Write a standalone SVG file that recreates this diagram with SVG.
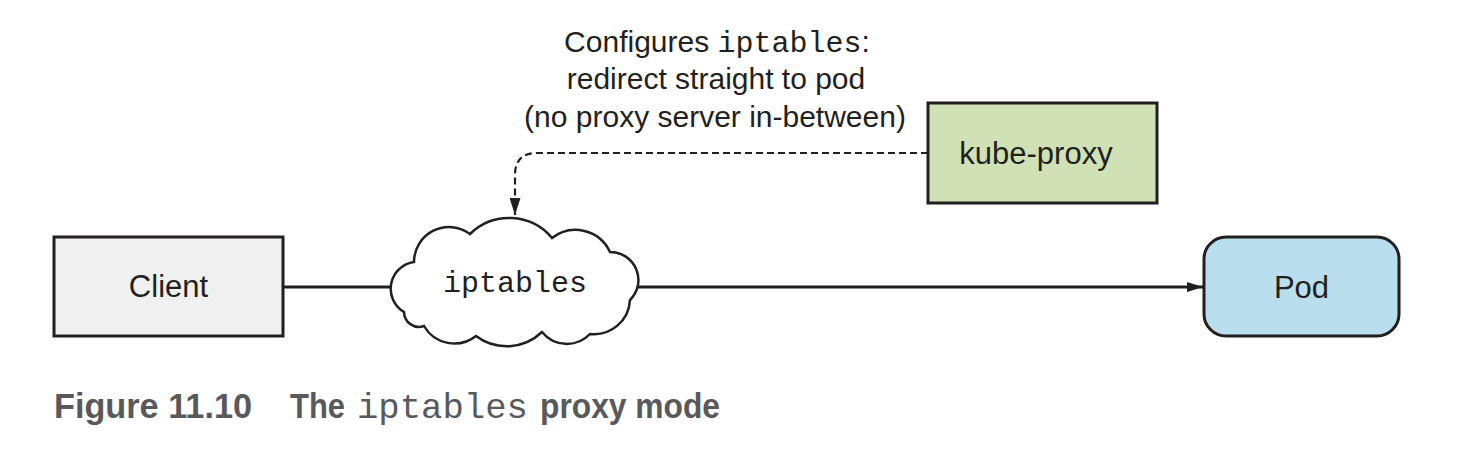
<svg xmlns="http://www.w3.org/2000/svg" width="1468" height="450" viewBox="0 0 1468 450">
<defs>
<style>
.box{stroke:#231f20;stroke-width:3}
.lbl{font-family:"Liberation Sans",Arial,sans-serif;font-size:30px;fill:#231f20;text-anchor:middle}
.node{font-size:31px}
.mono{font-family:"Liberation Mono","Courier New",monospace}
.conn{fill:none;stroke:#231f20;stroke-width:3}
.dash{fill:none;stroke:#231f20;stroke-width:2.2;stroke-dasharray:7 4}
.cap{font-family:"Liberation Sans",Arial,sans-serif;font-weight:bold;font-size:35px;fill:#58595b}
</style>
<marker id="arr" viewBox="0 0 16 10" refX="16" refY="5" markerWidth="16" markerHeight="10" markerUnits="userSpaceOnUse" orient="auto">
<path d="M0,0 L16,5 L0,10 Z" fill="#231f20"/>
</marker>
<marker id="arrd" viewBox="0 0 11 17" refX="5.5" refY="17" markerWidth="11" markerHeight="17" markerUnits="userSpaceOnUse" orient="0">
<path d="M0,0 L5.5,17 L11,0 Z" fill="#231f20"/>
</marker>
</defs>
<rect width="1468" height="450" fill="#ffffff"/>
<g id="connectors">
<line class="conn" x1="283" y1="287" x2="396" y2="287"/>
<line class="conn" x1="634" y1="287" x2="1203" y2="287" marker-end="url(#arr)"/>
<path class="dash" d="M928,153 H537 Q515,153 515,175 V215" marker-end="url(#arrd)"/>
</g>
<g id="client">
<rect class="box" x="54" y="237" width="229" height="99" fill="#f0f0f0"/>
<text class="lbl node" x="168.5" y="297">Client</text>
</g>
<g id="kube-proxy">
<rect class="box" x="928" y="103" width="229" height="100" fill="#d0e1b6"/>
<text class="lbl node" x="1036" y="164">kube-proxy</text>
</g>
<g id="pod">
<rect class="box" x="1204" y="237" width="195" height="99" rx="22" ry="22" fill="#b9dfee"/>
<text class="lbl node" x="1301.5" y="298">Pod</text>
</g>
<g id="iptables">
<path d="M404,312 A27,27 0 0 1 414,262 A35,35 0 0 1 470,234 A56,56 0 0 1 552,238 A38,38 0 0 1 610,252 A28,28 0 0 1 630,300 A36,36 0 0 1 590,334 A32,32 0 0 1 542,332 A51,51 0 0 1 476,336 A35,35 0 0 1 424,326 A15,15 0 0 1 404,312 Z" fill="#ffffff" stroke="#231f20" stroke-width="2.5"/>
<text class="lbl mono" x="515" y="292">iptables</text>
</g>
<g id="annotation">
<text class="lbl" x="717" y="52">Configures <tspan class="mono">iptables</tspan>:</text>
<text class="lbl" x="716" y="89">redirect straight to pod</text>
<text class="lbl" x="715" y="127">(no proxy server in-between)</text>
</g>
<g id="caption">
<text class="cap" x="54" y="418" textLength="198" lengthAdjust="spacingAndGlyphs">Figure 11.10</text>
<text class="cap" x="290" y="418" textLength="55" lengthAdjust="spacingAndGlyphs">The</text>
<text class="mono" x="357" y="418" font-size="35" fill="#58595b" textLength="171" lengthAdjust="spacingAndGlyphs">iptables</text>
<text class="cap" x="540" y="418" textLength="180" lengthAdjust="spacingAndGlyphs">proxy mode</text>
</g>
</svg>
